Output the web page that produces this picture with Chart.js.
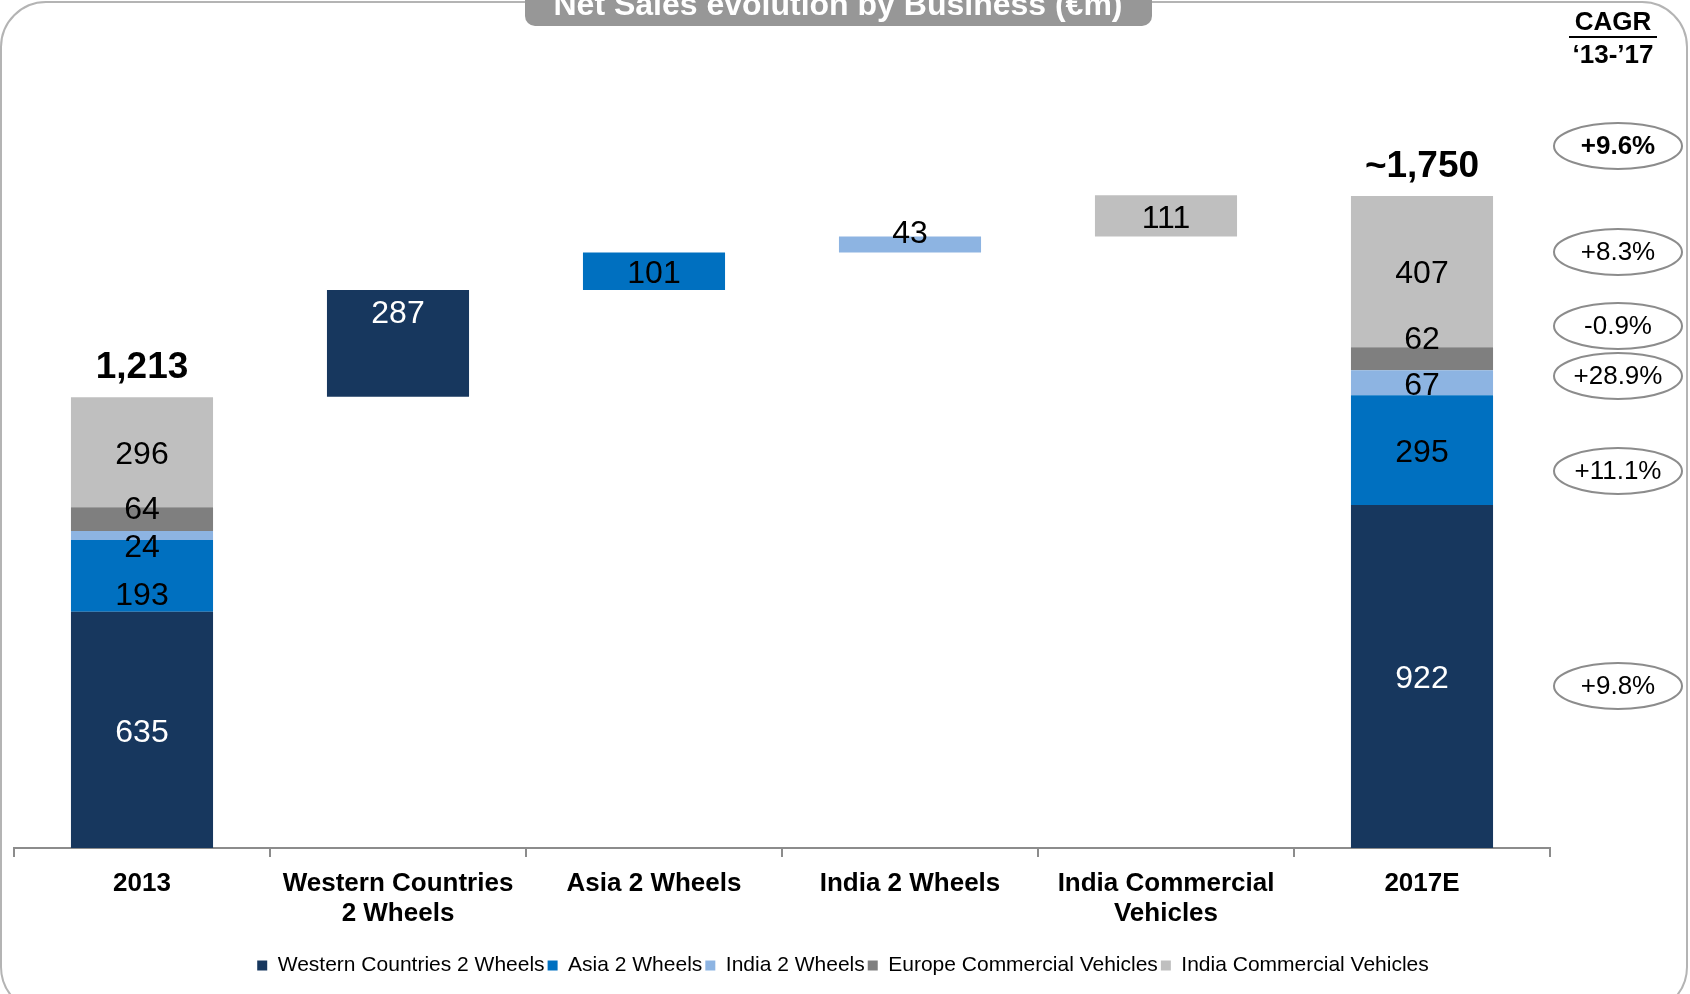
<!DOCTYPE html>
<html lang="en">
<head>
    <meta charset="UTF-8">
    <title>Net Sales evolution by Business</title>
    <script src="https://cdn.jsdelivr.net/npm/chart.js"></script>
    <style>
        html, body {
            margin: 0;
            padding: 0;
            background: #ffffff;
            overflow: hidden;
        }
        canvas {
            display: block;
        }
    </style>
</head>
<body>
    <canvas id="salesChart" width="1690" height="994"></canvas>
    <script>
        // categories on the x axis (arrays = two-line labels)
        const categories = ['2013', ['Western Countries', '2 Wheels'], 'Asia 2 Wheels', 'India 2 Wheels', ['India Commercial', 'Vehicles'], '2017E'];
        const businesses = ['Western Countries 2 Wheels', 'Asia 2 Wheels', 'India 2 Wheels', 'Europe Commercial Vehicles', 'India Commercial Vehicles'];

        // €m, in the same order as businesses
        const sales2013 = [635, 193, 24, 64, 296];
        const sales2017 = [922, 295, 67, 62, 407];
        const bridgeSteps = [287, 101, 43, null, 111];
        const bridgeCategory = [1, 2, 3, null, 4];

        const totals = [1213, 1750];
        const totalLabels = ['1,213', '~1,750'];

        // CAGR '13-'17, top to bottom: total, India CV, Europe CV, India 2W, Asia 2W, Western 2W
        const cagr = ['+9.6%', '+8.3%', '-0.9%', '+28.9%', '+11.1%', '+9.8%'];

        const colors = ['#17375E', '#0070C0', '#8DB4E2', '#7F7F7F', '#BFBFBF'];
        const FONT = '"Liberation Sans", Arial, sans-serif';

        // build floating [from, to] ranges for each business
        function buildDatasets() {
            const sets = businesses.map((name, i) => ({
                label: name,
                data: new Array(categories.length).fill(null),
                backgroundColor: colors[i],
                borderWidth: 0,
                barPercentage: 0.555,
                categoryPercentage: 1.0
            }));
            let c13 = 0, c17 = 0, bridge = totals[0];
            businesses.forEach((name, i) => {
                sets[i].data[0] = [c13, c13 + sales2013[i]];
                c13 += sales2013[i];
                sets[i].data[5] = [c17, c17 + sales2017[i]];
                c17 += sales2017[i];
                if (bridgeSteps[i] !== null) {
                    sets[i].data[bridgeCategory[i]] = [bridge, bridge + bridgeSteps[i]];
                    bridge += bridgeSteps[i];
                }
            });
            return sets;
        }

        function labelText(i, j) {
            if (j === 0) return sales2013[i];
            if (j === 5) return sales2017[i];
            return bridgeSteps[i];
        }

        // manual label offsets (px) like the original slide
        const labelNudge = { '1-0': 17, '2-0': 10, '3-0': -12, '0-1': -32, '2-3': -13, '3-5': -22 };
        const cagrY = [146, 252, 326, 376, 471, 686];

        const decorPlugin = {
            id: 'decor',
            beforeDraw(chart) {
                const ctx = chart.ctx;
                ctx.save();
                ctx.fillStyle = '#ffffff';
                ctx.fillRect(0, 0, chart.width, chart.height);
                // slide frame
                ctx.strokeStyle = '#b4b4b4';
                ctx.lineWidth = 2;
                ctx.beginPath();
                ctx.roundRect(1, 2, 1686, 1010, 45);
                ctx.stroke();
                // title tab
                ctx.fillStyle = '#979797';
                ctx.beginPath();
                ctx.roundRect(525, -12, 627, 38, 10);
                ctx.fill();
                ctx.fillStyle = '#ffffff';
                ctx.font = 'bold 32px ' + FONT;
                ctx.textAlign = 'center';
                ctx.textBaseline = 'alphabetic';
                ctx.fillText('Net Sales evolution by Business (€m)', 838, 15);
                ctx.restore();
            },
            afterDatasetsDraw(chart) {
                const ctx = chart.ctx;
                ctx.save();
                ctx.textAlign = 'center';
                ctx.textBaseline = 'middle';
                chart.data.datasets.forEach((ds, i) => {
                    const meta = chart.getDatasetMeta(i);
                    meta.data.forEach((bar, j) => {
                        if (!ds.data[j]) return;
                        const yc = (bar.y + bar.base) / 2 + 3 + (labelNudge[i + '-' + j] || 0);
                        ctx.font = '32px ' + FONT;
                        ctx.fillStyle = i === 0 ? '#ffffff' : '#000000';
                        ctx.fillText(String(labelText(i, j)), bar.x, yc);
                    });
                });
                // totals above first and last bars
                ctx.font = 'bold 37px ' + FONT;
                ctx.fillStyle = '#000000';
                [0, 5].forEach((j, k) => {
                    const meta = chart.getDatasetMeta(businesses.length - 1);
                    const bar = meta.data[j];
                    ctx.fillText(totalLabels[k], bar.x, bar.y - 29);
                });

                // CAGR column
                ctx.font = 'bold 26px ' + FONT;
                ctx.fillText('CAGR', 1613, 23);
                ctx.fillText('\u201813-\u201917', 1613, 56);
                ctx.fillRect(1569, 36, 88, 2);
                cagr.forEach((txt, k) => {
                    ctx.beginPath();
                    ctx.ellipse(1618, cagrY[k], 64, 23, 0, 0, Math.PI * 2);
                    ctx.strokeStyle = '#8c8c8c';
                    ctx.lineWidth = 2;
                    ctx.stroke();
                    ctx.font = (k === 0 ? 'bold ' : '') + '26px ' + FONT;
                    ctx.fillStyle = '#000000';
                    ctx.fillText(txt, 1618, cagrY[k] + 1);
                });
                ctx.restore();
            }
        };

        const ctx = document.getElementById('salesChart').getContext('2d');
        window.salesChart = new Chart(ctx, {
            type: 'bar',
            data: {
                labels: categories,
                datasets: buildDatasets()
            },
            options: {
                responsive: false,
                animation: false,
                devicePixelRatio: 1,
                layout: {
                    padding: { top: 104, left: 14, right: 18, bottom: 8 }
                },
                scales: {
                    x: {
                        stacked: true,
                        grid: {
                            display: true,
                            drawOnChartArea: false,
                            drawTicks: true,
                            tickLength: 9,
                            color: '#8c8c8c',
                            lineWidth: 2
                        },
                        border: { display: true, color: '#8c8c8c', width: 2 },
                        ticks: {
                            color: '#000000',
                            padding: 12,
                            autoSkip: false,
                            maxRotation: 0,
                            font: { family: FONT, size: 26, weight: 'bold', lineHeight: 1.15 }
                        },
                        afterFit: (scale) => { scale.height = 104; }
                    },
                    y: {
                        // empty right-hand axis: leaves room for the CAGR column
                        position: 'right',
                        stacked: false,
                        min: 0,
                        max: 2000,
                        grid: { display: false },
                        border: { display: false },
                        ticks: { display: false },
                        afterFit: (scale) => { scale.width = 122; }
                    }
                },
                plugins: {
                    tooltip: { enabled: false },
                    legend: {
                        position: 'bottom',
                        labels: {
                            boxWidth: 10,
                            boxHeight: 10,
                            padding: 3,
                            color: '#000000',
                            font: { family: FONT, size: 21 }
                        }
                    }
                }
            },
            plugins: [decorPlugin]
        });
    </script>
</body>
</html>
